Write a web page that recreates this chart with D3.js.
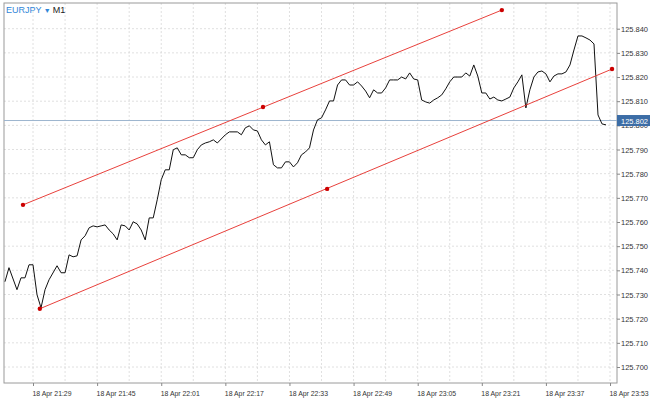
<!DOCTYPE html>
<html><head><meta charset="utf-8">
<script src="https://cdn.jsdelivr.net/npm/d3@7"></script>
<style>body{margin:0;background:#fff;font-family:"Liberation Sans",Arial,sans-serif}</style>
</head><body><svg id="c" width="650" height="403"></svg>
<script>
const times=["21:22","21:23","21:25","21:26","21:27","21:28","21:29","21:30","21:31","21:32","21:33","21:35","21:36","21:37","21:38","21:39","21:40","21:41","21:42","21:43","21:44","21:45","21:46","21:47","21:48","21:49","21:50","21:51","21:52","21:53","21:54","21:55","21:56","21:57","21:58","21:59","22:00","22:01","22:02","22:03","22:04","22:05","22:06","22:07","22:08","22:09","22:10","22:11","22:12","22:13","22:14","22:15","22:17","22:18","22:20","22:21","22:22","22:23","22:24","22:25","22:26","22:27","22:28","22:29","22:30","22:31","22:32","22:33","22:34","22:35","22:36","22:37","22:38","22:39","22:40","22:41","22:42","22:43","22:44","22:45","22:46","22:47","22:48","22:49","22:50","22:51","22:52","22:53","22:54","22:55","22:56","22:57","22:58","22:59","23:00","23:01","23:02","23:03","23:04","23:05","23:06","23:07","23:08","23:09","23:10","23:11","23:12","23:13","23:14","23:15","23:16","23:17","23:18","23:19","23:20","23:21","23:22","23:23","23:24","23:25","23:26","23:27","23:28","23:29","23:30","23:31","23:32","23:33","23:34","23:35","23:36","23:37","23:38","23:39","23:40","23:41","23:42","23:43","23:44","23:45","23:46","23:47","23:48","23:49","23:50","23:51","23:52"];
const prices=[125.7353,125.7411,125.7320,125.7369,125.7369,125.7423,125.7423,125.7299,125.7245,125.7320,125.7361,125.7419,125.7390,125.7390,125.7464,125.7456,125.7460,125.7526,125.7543,125.7576,125.7584,125.7580,125.7584,125.7588,125.7567,125.7551,125.7526,125.7588,125.7584,125.7567,125.7601,125.7592,125.7567,125.7526,125.7617,125.7617,125.7692,125.7775,125.7816,125.7816,125.7899,125.7907,125.7878,125.7878,125.7866,125.7866,125.7899,125.7919,125.7927,125.7932,125.7940,125.7927,125.7961,125.7973,125.7973,125.7961,125.7990,125.7998,125.7981,125.7977,125.7940,125.7919,125.7932,125.7837,125.7824,125.7824,125.7849,125.7849,125.7828,125.7845,125.7878,125.7890,125.7907,125.7981,125.8023,125.8031,125.8064,125.8101,125.8101,125.8167,125.8188,125.8188,125.8167,125.8167,125.8180,125.8163,125.8142,125.8114,125.8147,125.8134,125.8134,125.8155,125.8188,125.8188,125.8188,125.8200,125.8192,125.8217,125.8192,125.8188,125.8105,125.8097,125.8092,125.8105,125.8114,125.8126,125.8151,125.8180,125.8200,125.8200,125.8200,125.8217,125.8204,125.8250,125.8204,125.8134,125.8134,125.8109,125.8117,125.8105,125.8101,125.8109,125.8117,125.8155,125.8180,125.8209,125.8072,125.8147,125.8200,125.8221,125.8225,125.8213,125.8180,125.8204,125.8213,125.8213,125.8221,125.8250,125.8312,125.8370,125.8370,125.8362,125.8353,125.8337,125.8043,125.8006,125.8002,125.8023];
const upperChannel=[["21:26.5",125.7671],["22:26.4",125.8076],["23:26",125.8477]];
const lowerChannel=[["21:30.7",125.7241],["22:42.4",125.7737],["23:53.5",125.8233]];
const currentPrice=125.802;
const xTickLabels=["18 Apr 21:29","18 Apr 21:45","18 Apr 22:01","18 Apr 22:17","18 Apr 22:33","18 Apr 22:49","18 Apr 23:05","18 Apr 23:21","18 Apr 23:37","18 Apr 23:53"];
const yTicks=[125.700,125.710,125.720,125.730,125.740,125.750,125.760,125.770,125.780,125.790,125.800,125.810,125.820,125.830,125.840];

const toMin=s=>{const [h,m]=s.split(":");return +h*60+ +m;};
const L=4,R=617,T=3,B=383;
const svg=d3.select("#c");
const x=d3.scaleLinear().domain([1281.76,1434.74]).range([L,R]);
const y=d3.scaleLinear().domain([125.700,125.840]).range([367,28.7]);
const grid=svg.append("g").attr("stroke","#d8d8d8").attr("stroke-dasharray","2,2").attr("stroke-width",0.8);
for(let m=1289-8;m<=1440;m+=8){const px=x(m);if(px>L+1&&px<R-1)grid.append("line").attr("x1",px).attr("x2",px).attr("y1",T).attr("y2",B);}
yTicks.forEach(v=>grid.append("line").attr("x1",L).attr("x2",R).attr("y1",y(v)).attr("y2",y(v)));
svg.append("rect").attr("x",L).attr("y",T).attr("width",R-L).attr("height",B-T).attr("fill","none").attr("stroke","#9a9a9a");
const ya=svg.append("g").attr("transform",`translate(${R},0)`).call(d3.axisRight(y).tickValues(yTicks).tickFormat(d=>d.toFixed(3)).tickSize(3));
ya.select(".domain").remove();
ya.selectAll("text").attr("font-size",8).attr("fill","#333").attr("x",4).attr("textLength",27).attr("lengthAdjust","spacingAndGlyphs");
ya.selectAll("line").attr("stroke","#888");
const xa=svg.append("g").attr("transform",`translate(0,${B})`).call(d3.axisBottom(x).tickValues(xTickLabels.map(s=>toMin(s.slice(7)))).tickFormat((d,i)=>xTickLabels[i]).tickSize(3));
xa.select(".domain").remove();
xa.selectAll("text").attr("font-size",8).attr("fill","#333").attr("text-anchor","start").attr("dy","0.9em").attr("x",-1).attr("textLength",39).attr("lengthAdjust","spacingAndGlyphs");
xa.selectAll("line").attr("stroke","#888");
svg.append("line").attr("x1",L).attr("x2",R).attr("y1",y(currentPrice)).attr("y2",y(currentPrice)).attr("stroke","#9db5cf").attr("stroke-width",1);
svg.append("rect").attr("x",R).attr("y",y(currentPrice)-5.5).attr("width",33).attr("height",11).attr("fill","#3c6da6");
svg.append("text").attr("x",R+4).attr("y",y(currentPrice)+3).attr("font-size",8).attr("fill","#fff").attr("textLength",27).attr("lengthAdjust","spacingAndGlyphs").text(currentPrice.toFixed(3));
const line=d3.line().x(d=>x(d[0])).y(d=>y(d[1]));
const data=times.map((t,i)=>[toMin(t),prices[i]]);
svg.append("path").datum(data).attr("d",line).attr("fill","none").attr("stroke","#111").attr("stroke-width",1);
[upperChannel,lowerChannel].forEach(ch=>{
  const pts=ch.map(([t,v])=>{const [h,m]=t.split(":");return [+h*60+ +m,v];});
  svg.append("line").attr("x1",x(pts[0][0])).attr("y1",y(pts[0][1])).attr("x2",x(pts[2][0])).attr("y2",y(pts[2][1])).attr("stroke","#e8413c").attr("stroke-width",1);
  pts.forEach(p=>svg.append("circle").attr("cx",x(p[0])).attr("cy",y(p[1])).attr("r",2.2).attr("fill","#c00"));
});
const tt=svg.append("text").attr("x",6).attr("y",13).attr("font-size",9);
tt.append("tspan").attr("fill","#2f86d8").text("EURJPY ");
tt.append("tspan").attr("fill","#2f86d8").attr("font-size",7).text("▼ ");
tt.append("tspan").attr("fill","#222").text("M1");
</script></body></html>
